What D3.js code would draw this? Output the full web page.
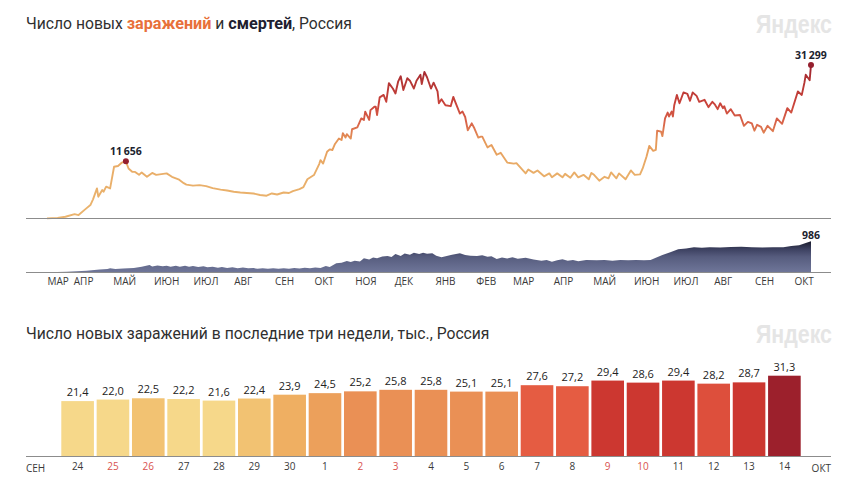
<![CDATA[<!DOCTYPE html>
<html><head><meta charset="utf-8">
<script src="https://cdnjs.cloudflare.com/ajax/libs/d3/7.8.5/d3.min.js"></script>
<style>
html,body{margin:0;padding:0;background:#fff;overflow:hidden}
svg{display:block}
text{font-family:"Open Sans",sans-serif}
</style></head><body><svg id="c" width="851" height="494"></svg>
<script>
const caseDays=[0,8,14,21,24,29,33,35,38,39,42,43,45,48,51,54,57,60,62,65,67,70,72,76,80,83,87,91,95,100,104,106,111,116,121,126,132,137,142,147,152,157,162,167,171,175,180,184,187,192,195,198,203,207,208,210,213,215,217,219,222,224,225,227,228,231,232,236,239,241,242,245,246,249,250,251,253,256,258,260,263,265,267,269,271,274,276,279,281,284,285,287,289,292,294,297,298,300,303,307,309,310,314,316,318,320,323,325,328,330,331,335,338,342,345,350,355,357,364,366,370,373,378,382,384,388,392,394,398,401,404,408,412,414,416,420,424,427,429,433,435,440,444,447,451,453,456,458,461,463,464,467,468,470,472,473,475,476,477,479,481,484,487,489,491,494,496,500,503,506,508,510,512,514,515,517,520,523,527,530,533,536,538,540,543,545,548,552,555,559,563,566,571,574,576,577,580,581];
const caseValues=[30,120,360,900,700,1860,2740,3900,6140,4440,5800,5460,6500,6140,10560,10700,11400,11656,10200,9500,9500,8900,9400,8500,9300,8900,9060,9200,8500,8000,7200,6900,6700,6800,6600,6200,5900,5700,5450,5300,5200,5100,4800,4650,5100,4900,5300,5200,5600,6000,6400,8000,8860,11100,11900,11200,13600,14100,13960,15200,16300,16000,17400,16500,17200,16300,18200,18600,20400,20100,21800,20100,22100,22800,22800,21100,24700,25200,23800,27600,26500,25500,27900,29000,26200,28600,28100,26500,28100,29300,27400,29900,28800,26500,27700,25900,23500,24300,23100,22900,24800,24100,21400,21800,20700,18000,19400,18400,16500,16700,16700,14500,15000,13000,13400,11400,11200,11300,9200,10000,9300,9800,8600,9200,8400,9200,8400,9100,8300,9400,8400,8900,8000,9300,8900,7700,8500,8200,9400,8200,9200,8000,9800,8900,9000,10200,12700,14800,13800,14000,17900,17700,16800,20400,21600,20800,21800,20800,23100,25200,23500,25700,25400,24000,25700,25000,23800,24200,22700,23800,23200,22300,23500,22500,22900,21400,22300,21000,21100,18900,19700,19400,17900,19100,18700,17500,18900,17800,20400,19300,22500,21600,25900,25200,27700,29300,28200,31299];
const deathDays=[0,15,30,40,46,48,52,58,66,72,78,80,84,88,91,94,98,101,105,108,111,115,119,122,126,130,133,137,141,145,149,153,157,160,164,168,172,176,180,184,188,192,196,200,204,208,212,215,220,224,228,231,234,238,241,245,248,251,255,259,262,265,269,272,276,279,283,286,289,293,296,300,304,308,311,314,318,322,327,331,335,338,342,346,350,354,358,364,370,376,380,384,388,392,396,400,404,410,418,424,430,436,442,448,454,459,463,468,474,480,486,492,498,504,512,520,528,536,544,552,560,566,572,577,581];
const deathValues=[2,15,50,90,105,130,105,120,135,175,232,185,215,190,212,180,205,175,205,178,200,170,190,160,180,145,170,140,160,130,150,125,135,115,130,110,125,110,130,115,140,120,145,125,150,135,200,170,285,300,360,330,370,345,445,410,470,445,500,520,490,583,520,600,560,625,580,625,590,604,530,477,520,560,583,604,550,530,520,540,498,510,424,470,440,477,430,460,410,371,390,339,380,413,370,392,350,392,380,392,370,392,380,392,385,392,460,551,640,731,760,795,780,795,790,805,816,800,790,795,800,837,860,930,986];
const monthTicks=["2020-03-12","2020-04-01","2020-05-01","2020-06-01","2020-07-01","2020-08-01","2020-09-01","2020-10-01","2020-11-01","2020-12-01","2021-01-01","2021-02-01","2021-03-01","2021-04-01","2021-05-01","2021-06-01","2021-07-01","2021-08-01","2021-09-01","2021-10-01"];
const monthLabels=["МАР","АПР","МАЙ","ИЮН","ИЮЛ","АВГ","СЕН","ОКТ","НОЯ","ДЕК","ЯНВ","ФЕВ","МАР","АПР","МАЙ","ИЮН","ИЮЛ","АВГ","СЕН","ОКТ"];
const barDays=["24","25","26","27","28","29","30","1","2","3","4","5","6","7","8","9","10","11","12","13","14"];
const barValues=[21.4,22.0,22.5,22.2,21.6,22.4,23.9,24.5,25.2,25.8,25.8,25.1,25.1,27.6,27.2,29.4,28.6,29.4,28.2,28.7,31.3];
const weekendDays=["25","26","2","3","9","10"];

const svg=d3.select("#c");
const start=Date.UTC(2020,2,12);
const toDate=d=>new Date(start+d*864e5);
const x=d3.scaleUtc().domain([toDate(0),toDate(581)]).range([47,811]);
const yC=d3.scaleLinear().domain([0,31299]).range([218.5,65]);
const yD=d3.scaleLinear().domain([0,986]).range([272.3,241.3]);
const defs=svg.append("defs");
const lg=defs.append("linearGradient").attr("id","lineGrad").attr("gradientUnits","userSpaceOnUse")
 .attr("x1",0).attr("x2",0).attr("y1",yC(0)).attr("y2",yC(31299));
[[0,"#eab46e"],[.33,"#e9ad68"],[.5,"#e69a5a"],[.62,"#d9654a"],[.75,"#c9423a"],[.9,"#b23534"],[1,"#9c2030"]].forEach(s=>lg.append("stop").attr("offset",s[0]).attr("stop-color",s[1]));
const ag=defs.append("linearGradient").attr("id","areaGrad").attr("gradientUnits","userSpaceOnUse")
 .attr("x1",0).attr("x2",0).attr("y1",yD(0)).attr("y2",yD(986));
[[0,"#6f7699"],[.5,"#565c7e"],[.75,"#3c4060"],[1,"#1a1c2c"]].forEach(s=>ag.append("stop").attr("offset",s[0]).attr("stop-color",s[1]));

function title(y,parts){
 const t=svg.append("text").attr("x",26).attr("y",y).attr("font-size",15.7).attr("fill","#2f2f2f").style("font-family","Roboto,sans-serif");
 parts.forEach(p=>t.append("tspan").text(p[0]).attr("fill",p[1]||null).attr("font-weight",p[2]||null).attr("font-size",p[2]?16.2:null));
}
title(29,[["Число новых "],["заражений","#e8703a",700],[" и "],["смертей","#1e2030",700],[", Россия"]]);
title(339,[["Число новых заражений в последние три недели, тыс., Россия"]]);
[33,343].forEach(y=>svg.append("text").attr("x",756).attr("y",y).attr("textLength",76).attr("lengthAdjust","spacingAndGlyphs").attr("font-size",26)
 .attr("font-weight",700).attr("fill","#e5e5e5").style("font-family","'Liberation Sans',sans-serif").text("Яндекс"));

const area=d3.area().x((d,i)=>x(toDate(deathDays[i]))).y0(yD(0)).y1(d=>yD(d));
svg.append("path").datum(deathValues).attr("d",area).attr("fill","url(#areaGrad)");
const line=d3.line().x((d,i)=>x(toDate(caseDays[i]))).y(d=>yC(d));
svg.append("path").datum(caseValues).attr("d",line).attr("fill","none").attr("stroke","url(#lineGrad)").attr("stroke-width",1.9).attr("stroke-linejoin","round");

function hr(y){svg.append("line").attr("x1",26).attr("x2",831).attr("y1",y).attr("y2",y).attr("stroke","#8c8c8c").attr("stroke-width",1);}
hr(218.5);hr(272.5);

const labelMap=new Map(monthTicks.map((m,i)=>[+new Date(m+"T00:00:00Z"),monthLabels[i]]));
const axisG=svg.append("g").attr("transform","translate(0,277)").call(
 d3.axisBottom(x).tickValues(monthTicks.map(m=>new Date(m+"T00:00:00Z"))).tickSize(0).tickPadding(0).tickFormat(d=>labelMap.get(+d)));
axisG.select(".domain").remove();
axisG.selectAll("text").attr("text-anchor","start").attr("font-size",10).attr("fill","#3a3a3a").style("font-family","'Open Sans',sans-serif").attr("dy","0.71em").attr("y",1);

const peakI=caseValues.indexOf(11656),lastI=caseValues.length-1;
[peakI,lastI].forEach(i=>{
 svg.append("circle").attr("cx",x(toDate(caseDays[i]))).attr("cy",yC(caseValues[i])).attr("r",3).attr("fill","#951f2e");
 svg.append("text").attr("x",x(toDate(caseDays[i]))).attr("y",yC(caseValues[i])-6.5).attr("text-anchor","middle")
  .attr("font-size",10.5).attr("font-weight",700).attr("fill","#20222e").text(d3.format(",")(caseValues[i]).replace(",","\u2009"));
});
svg.append("text").attr("x",811).attr("y",238.5).attr("text-anchor","middle").attr("font-size",10.5).attr("font-weight",700).attr("fill","#20222e").text(deathValues[deathValues.length-1]);

const xB=d3.scaleBand().domain(d3.range(barDays.length)).range([61.3,800.7]).paddingInner(0.077).paddingOuter(0);
const yB=d3.scaleLinear().domain([0,31.3]).range([456,375.7]);
const col=d3.scaleThreshold().domain([22.3,23.5,24.2,25,26.5,28,28.4,30]).range(["#f6d88a","#f2c272","#efaf62","#eca05b","#ea9055","#e55c42","#dd4f3c","#cc3730","#9c202c"]);
svg.append("g").selectAll("rect").data(barValues).join("rect")
 .attr("x",(d,i)=>xB(i)).attr("width",xB.bandwidth()).attr("y",d=>yB(d)).attr("height",d=>yB(0)-yB(d)).attr("fill",d=>col(d));
svg.append("g").selectAll("text").data(barValues).join("text")
 .attr("x",(d,i)=>xB(i)+xB.bandwidth()/2).attr("y",d=>yB(d)-5).attr("text-anchor","middle").attr("font-size",11).attr("fill","#222")
 .text(d=>d3.format(".1f")(d).replace(".",","));
hr(456.5);
const axB=svg.append("g").attr("transform","translate(0,463)").call(d3.axisBottom(xB).tickSize(0).tickPadding(0).tickFormat(i=>barDays[i]));
axB.select(".domain").remove();
axB.selectAll("text").attr("font-size",10).attr("dy","0.71em").attr("y",0).style("font-family","'Open Sans',sans-serif")
 .attr("fill",i=>weekendDays.includes(barDays[i])?"#d9534f":"#3a3a3a");
svg.append("text").attr("x",26).attr("y",471.5).attr("font-size",10).attr("fill","#3a3a3a").text("СЕН");
svg.append("text").attr("x",831).attr("y",471.5).attr("text-anchor","end").attr("font-size",10).attr("fill","#3a3a3a").text("ОКТ");
</script></body></html>]]>
